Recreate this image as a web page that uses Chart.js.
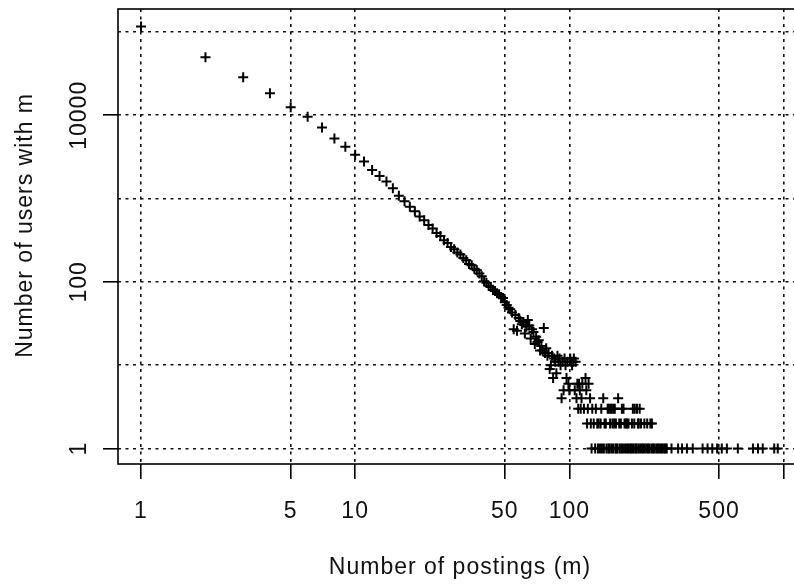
<!DOCTYPE html>
<html>
<head>
<meta charset="utf-8">
<script src="https://cdn.jsdelivr.net/npm/chart.js@4/dist/chart.umd.min.js"></script>
<style>
  html, body { margin: 0; padding: 0; background: #fff; overflow: hidden; }
  #wrap { width: 794px; height: 586px; overflow: hidden; }
  canvas { display: block; }
</style>
</head>
<body>
<div id="wrap"><canvas id="c" width="812" height="586"></canvas></div>
<script>
// Number of postings m and how many users wrote exactly m postings (n >= 5)
const postingsHead = [
  1, 2, 3, 4, 5, 6, 7, 8, 9, 10, 11, 12, 13, 14, 15, 16, 17, 18, 19, 20,
  21, 22, 23, 24, 25, 26, 27, 28, 29, 30, 31, 32, 33, 34, 35, 36, 37, 38, 39, 40,
  41, 42, 43, 44, 45, 46, 47, 48, 49, 50, 51, 52, 53, 54, 55, 56, 57, 58, 59, 60,
  61, 62, 63, 64, 65, 66, 67, 68, 69, 70, 71, 72, 73, 74, 75, 76, 77, 78, 79, 80,
  81, 82, 83, 84, 85, 86, 87, 88, 89, 90, 91, 93, 94, 95, 96, 97, 98, 99, 100,
  101, 102, 103, 104, 105, 106, 107, 109, 111, 112, 115, 119, 120, 123
];
const usersHead = [
  116000, 49700, 28600, 18400, 12500, 9600, 7150, 5250, 4200, 3350, 2780, 2200, 1870, 1600, 1330, 1080, 930, 800, 705, 610,
  548, 482, 437, 386, 355, 316, 293, 262, 247, 226, 213, 194, 182, 164, 158, 144, 138, 126, 117, 102,
  98, 90, 87, 80, 78, 73, 71, 66, 64, 57, 53, 49, 47, 43, 27, 40, 26, 37, 34, 31,
  33, 24, 29, 35, 30, 21, 27, 25, 18, 22, 19, 20, 15, 17, 15, 28, 14, 16, 13, 14,
  9, 10, 13, 7, 12, 11, 8, 13, 11, 12, 10, 11, 5, 12, 10, 7, 11, 6, 5,
  12, 11, 10, 11, 12, 5, 11, 6, 6, 5, 6, 7, 5, 6
];
// Posting counts shared by only a few users
const postingsWithFour = [92, 108, 114, 125, 144, 169];
const postingsWithThree = [110, 113, 117, 122, 128, 133, 141, 151, 153, 156, 158, 161, 163, 176, 179, 198, 202, 207, 213];
const postingsWithTwo = [121, 126, 130, 135, 137, 140, 146, 148, 155, 159, 162, 165, 171, 174, 181, 184, 186, 189, 196, 201, 209, 211, 216, 224, 231, 239, 243];
const postingsWithOne = [
  127, 132, 136, 139, 142, 145, 149, 152, 154, 157, 160, 164, 166, 168, 172, 175, 178, 182, 185, 188,
  191, 194, 197, 200, 204, 206, 210, 214, 218, 221, 225, 229, 233, 237, 242, 246, 250, 255, 259, 263,
  268, 272, 277, 281, 285, 300, 322, 336, 354, 377, 419, 442, 465, 490, 515, 544, 612, 720, 760, 800,
  905, 940
];

// Axis ticks
const xTickValues = [1, 5, 10, 50, 100, 500, 1000];
const xTickLabels = ['1', '5', '10', '50', '100', '500', ''];
const yTickValues = [1, 10, 100, 1000, 10000, 100000];
const yTickLabels = ['1', '', '100', '', '10000', ''];

const points = [];
postingsHead.forEach((m, i) => points.push({ x: m, y: usersHead[i] }));
[[postingsWithFour, 4], [postingsWithThree, 3], [postingsWithTwo, 2], [postingsWithOne, 1]]
  .forEach(([list, n]) => list.forEach(m => points.push({ x: m, y: n })));

const FONT = '"Liberation Sans", Arial, Helvetica, sans-serif';
const INK = '#111';

// slightly open letter spacing for all labels
const spacing = {
  id: 'spacing',
  beforeUpdate(chart) { chart.ctx.letterSpacing = '1px'; },
  beforeDraw(chart) { chart.ctx.letterSpacing = '1px'; }
};

// closed box around the plotting region
const frame = {
  id: 'frame',
  afterDatasetsDraw(chart) {
    const { left, top, right, bottom } = chart.chartArea;
    const ctx = chart.ctx;
    ctx.save();
    ctx.strokeStyle = '#000';
    ctx.lineWidth = 1.6;
    ctx.strokeRect(left, top, right - left, bottom - top);
    ctx.restore();
  }
};

const gridStyle = (labels, hideBlankTicks) => ({
  color: '#111',
  lineWidth: 1.6,
  drawTicks: true,
  tickLength: 15,
  tickWidth: 1.6,
  tickColor: (c) => (hideBlankTicks && labels[c.index] === '') ? 'rgba(0,0,0,0)' : '#000'
});

new Chart(document.getElementById('c'), {
  type: 'scatter',
  data: {
    datasets: [{
      data: points,
      pointStyle: 'cross',
      pointRadius: 5,
      pointBorderWidth: 2,
      borderColor: '#000',
      backgroundColor: '#000'
    }]
  },
  options: {
    responsive: false,
    animation: false,
    events: [],
    layout: { padding: { left: 0, top: 9, right: 10, bottom: 0 } },
    plugins: { legend: { display: false }, tooltip: { enabled: false } },
    scales: {
      x: {
        type: 'logarithmic',
        position: 'bottom',
        min: 0.781,
        max: 1220,
        afterBuildTicks: (s) => { s.ticks = xTickValues.map(v => ({ value: v })); },
        afterFit: (s) => { s.height = 122; s.paddingLeft = 0; s.paddingRight = 0; },
        ticks: {
          autoSkip: false, minRotation: 0, maxRotation: 0, padding: 19,
          color: INK, font: { family: FONT, size: 23 },
          callback: (v, i) => xTickLabels[i]
        },
        grid: gridStyle(xTickLabels, false),
        border: { display: false, dash: [3, 4.5] },
        title: {
          display: true, text: 'Number of postings (m)', color: INK,
          font: { family: FONT, size: 23, lineHeight: 1.2 },
          padding: { top: 0, bottom: 5 }
        }
      },
      y: {
        type: 'logarithmic',
        position: 'left',
        min: 0.652,
        max: 188800,
        afterBuildTicks: (s) => { s.ticks = yTickValues.map(v => ({ value: v })); },
        afterFit: (s) => { s.width = 118; s.paddingTop = 0; s.paddingBottom = 0; },
        ticks: {
          autoSkip: false, minRotation: 90, maxRotation: 90, crossAlign: 'center', padding: -11,
          color: INK, font: { family: FONT, size: 23 },
          callback: (v, i) => yTickLabels[i]
        },
        grid: gridStyle(yTickLabels, true),
        border: { display: false, dash: [3, 4.5] },
        title: {
          display: true, text: '   Number of users with m', color: INK,
          font: { family: FONT, size: 23, lineHeight: 1.2 },
          padding: { top: 12, bottom: 0 }
        }
      }
    }
  },
  plugins: [spacing, frame]
});
</script>
</body>
</html>
